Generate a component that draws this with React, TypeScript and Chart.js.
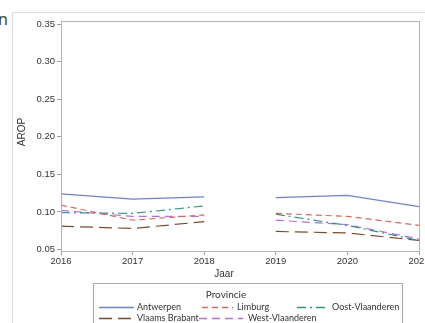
import React, { useEffect, useRef } from "react";
import { Chart, registerables } from "chart.js";

Chart.register(...registerables);

// Jaren op de x-as
const years = [2016, 2017, 2018, 2019, 2020, 2021];
const yTicks = [0.05, 0.1, 0.15, 0.2, 0.25, 0.3, 0.35];

// AROP per provincie
const antwerpen = [0.124, 0.117, 0.12, 0.119, 0.122, 0.107];
const limburg = [0.109, 0.089, 0.096, 0.098, 0.094, 0.082];
const oostVlaanderen = [0.099, 0.098, 0.108, 0.097, 0.082, 0.062];
const vlaamsBrabant = [0.081, 0.078, 0.087, 0.074, 0.072, 0.062];
const westVlaanderen = [0.102, 0.094, 0.094, 0.089, 0.083, 0.064];

// break in the series between 2018 and 2019
const gapAfterIndex = 2;

const TICK_FONT = "'Liberation Sans', Arial, sans-serif";
const LEGEND_FONT = "Lato, 'Noto Sans', sans-serif";

type Series = { label: string; values: number[]; color: string; dash: number[] };

const series: Series[] = [
  { label: "Antwerpen", values: antwerpen, color: "#6f84c6", dash: [] },
  { label: "Limburg", values: limburg, color: "#d46b5c", dash: [6, 4] },
  { label: "Oost-Vlaanderen", values: oostVlaanderen, color: "#2d9483", dash: [9, 4, 2, 4] },
  { label: "Vlaams Brabant", values: vlaamsBrabant, color: "#7a4a2c", dash: [13, 6] },
  { label: "West-Vlaanderen", values: westVlaanderen, color: "#b46ee0", dash: [8, 5] },
];

// legend slots: [row, sampleStart, sampleEnd, textX]
const legendSlots: [number, number, number, number][] = [
  [0, 99, 134, 137],
  [0, 202, 233, 237],
  [0, 297, 329, 332],
  [1, 99, 134, 137],
  [1, 199, 243, 248],
];

const decorPlugin = {
  id: "decor",
  afterDraw(chart: any) {
    const ctx = chart.ctx as CanvasRenderingContext2D;
    const a = chart.chartArea;
    ctx.save();
    // plot frame
    ctx.strokeStyle = "#b4b4b4";
    ctx.lineWidth = 1;
    ctx.strokeRect(Math.round(a.left) + 0.5, Math.round(a.top) + 0.5, Math.round(a.right - a.left), Math.round(a.bottom - a.top));

    // axis titles
    ctx.fillStyle = "#333";
    ctx.font = `10px ${TICK_FONT}`;
    ctx.textAlign = "center";
    ctx.textBaseline = "middle";
    ctx.fillText("Jaar", 224, 274);
    ctx.save();
    ctx.translate(22, 132);
    ctx.rotate(-Math.PI / 2);
    ctx.fillText("AROP", 0, 0);
    ctx.restore();

    // legend box
    ctx.strokeStyle = "#a8a8a8";
    ctx.strokeRect(93.5, 283.5, 309, 60);
    ctx.fillStyle = "#333";
    ctx.font = `10px ${LEGEND_FONT}`;
    ctx.fillText("Provincie", 226, 295);

    ctx.font = `9px ${LEGEND_FONT}`;
    ctx.textAlign = "left";
    chart.data.datasets.forEach((ds: any, i: number) => {
      const [row, x0, x1, tx] = legendSlots[i];
      const y = row === 0 ? 307.5 : 318.5;
      ctx.strokeStyle = ds.borderColor;
      ctx.lineWidth = 1.3;
      ctx.setLineDash(ds.borderDash || []);
      ctx.beginPath();
      ctx.moveTo(x0, y);
      ctx.lineTo(x1, y);
      ctx.stroke();
      ctx.setLineDash([]);
      ctx.fillStyle = "#333";
      ctx.fillText(ds.label, tx, y);
    });
    ctx.restore();
  },
};

export default function App() {
  const canvasRef = useRef<HTMLCanvasElement | null>(null);

  useEffect(() => {
    const canvas = canvasRef.current;
    if (!canvas) return;
    const chart = new Chart(canvas, {
      type: "line",
      data: {
        datasets: series.map((s) => ({
          label: s.label,
          data: years.map((y, i) => ({ x: y, y: s.values[i] })),
          borderColor: s.color,
          borderDash: s.dash,
          borderWidth: 1.2,
          pointRadius: 0,
          fill: false,
          tension: 0,
          segment: {
            borderColor: (c: any) => (c.p0DataIndex === gapAfterIndex ? "rgba(0,0,0,0)" : undefined),
          },
        })),
      },
      options: {
        animation: false,
        responsive: false,
        events: [],
        layout: { padding: { left: 0, top: 21, right: 21, bottom: 0 } },
        plugins: { legend: { display: false }, tooltip: { enabled: false } },
        scales: {
          x: {
            type: "linear",
            min: 2016,
            max: 2021,
            afterBuildTicks: (scale: any) => {
              scale.ticks = years.map((v) => ({ value: v }));
            },
            afterFit: (scale: any) => {
              scale.height = 72;
            },
            ticks: {
              autoSkip: false,
              maxRotation: 0,
              padding: 1,
              color: "#333",
              font: { family: TICK_FONT, size: 9.5 },
              callback: (v: any) => String(v),
            },
            grid: { drawOnChartArea: false, tickLength: 4, color: "#a0a0a0" },
            border: { color: "#a0a0a0" },
          },
          y: {
            min: 0.048,
            max: 0.354,
            afterBuildTicks: (scale: any) => {
              scale.ticks = yTicks.map((v) => ({ value: v }));
            },
            afterFit: (scale: any) => {
              scale.width = 61;
            },
            ticks: {
              padding: 2,
              color: "#333",
              font: { family: TICK_FONT, size: 9.5 },
              callback: (v: any) => Number(v).toFixed(2),
            },
            grid: { drawOnChartArea: false, tickLength: 4, color: "#a0a0a0" },
            border: { color: "#a0a0a0" },
          },
        },
      },
      plugins: [decorPlugin],
    });
    return () => chart.destroy();
  }, []);

  return (
    <div
      style={{
        position: "fixed",
        left: 0,
        top: 0,
        width: 425,
        height: 323,
        overflow: "hidden",
        background: "#fff",
      }}
    >
      <span
        style={{
          position: "absolute",
          left: -2,
          top: 8,
          fontFamily: "'Noto Sans', sans-serif",
          fontSize: 16,
          color: "#444",
        }}
      >
        n
      </span>
      <div
        style={{
          position: "absolute",
          left: 12,
          top: 12,
          width: 500,
          height: 400,
          border: "1px solid #dcdcdc",
        }}
      />
      <canvas
        ref={canvasRef}
        width={440}
        height={323}
        style={{ position: "absolute", left: 0, top: 0, width: 440, height: 323 }}
      />
    </div>
  );
}
